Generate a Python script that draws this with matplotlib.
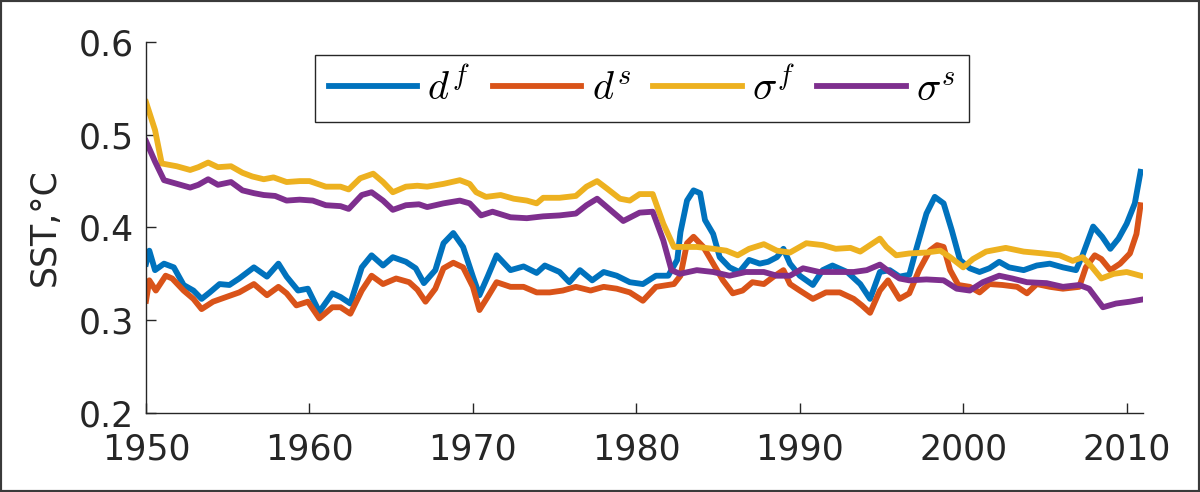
import matplotlib
matplotlib.use("Agg")
import matplotlib.pyplot as plt
from matplotlib.patches import Rectangle

plt.rcParams['font.family'] = ['DejaVu Sans']
plt.rcParams['mathtext.fontset'] = 'cm'

# d^f (blue)
df_years = [1950.0, 1950.2, 1950.55, 1951.1, 1951.7, 1952.3, 1952.9, 1953.4, 1953.9, 1954.5,
            1955.1, 1955.7, 1956.6, 1957.4, 1958.1, 1958.6, 1959.3, 1959.9, 1960.6, 1961.4,
            1961.9, 1962.5, 1963.2, 1963.8, 1964.5, 1965.1, 1965.9, 1966.5, 1967.0, 1967.7,
            1968.2, 1968.8, 1969.4, 1970.0, 1970.4, 1970.9, 1971.45, 1972.3, 1973.1, 1973.9,
            1974.4, 1975.3, 1975.9, 1976.55, 1977.3, 1978.0, 1978.8, 1979.6, 1980.4, 1981.2,
            1981.95, 1982.5, 1982.7, 1983.1, 1983.5, 1983.9, 1984.2, 1984.7, 1985.1, 1985.7,
            1986.3, 1986.9, 1987.55, 1988.06, 1988.6, 1989.0, 1989.4, 1990.0, 1990.8, 1991.4,
            1992.0, 1992.9, 1993.7, 1994.3, 1994.9, 1995.5, 1996.1, 1996.7, 1997.1, 1997.75,
            1998.26, 1998.8, 1999.3, 1999.8, 2000.4, 2001.0, 2001.6, 2002.2, 2002.8, 2003.7,
            2004.5, 2005.3, 2006.1, 2006.9, 2007.3, 2007.95, 2008.5, 2009.0, 2009.5, 2010.0,
            2010.5, 2010.85]
df_vals = [0.361, 0.375, 0.354, 0.361, 0.357, 0.338, 0.332, 0.323, 0.330, 0.339,
           0.338, 0.345, 0.357, 0.347, 0.361, 0.347, 0.332, 0.334, 0.309, 0.329,
           0.325, 0.318, 0.357, 0.370, 0.359, 0.368, 0.363, 0.356, 0.340, 0.354,
           0.383, 0.394, 0.379, 0.347, 0.327, 0.347, 0.370, 0.354, 0.358, 0.351,
           0.359, 0.352, 0.341, 0.354, 0.343, 0.352, 0.348, 0.341, 0.339, 0.348,
           0.348, 0.365, 0.395, 0.429, 0.440, 0.437, 0.408, 0.393, 0.368, 0.357,
           0.352, 0.365, 0.361, 0.363, 0.368, 0.377, 0.361, 0.348, 0.338, 0.354,
           0.359, 0.352, 0.339, 0.323, 0.352, 0.354, 0.347, 0.349, 0.375, 0.415,
           0.433, 0.426, 0.397, 0.365, 0.356, 0.352, 0.356, 0.363, 0.357, 0.354,
           0.359, 0.361, 0.357, 0.354, 0.370, 0.401, 0.390, 0.377, 0.388, 0.404,
           0.426, 0.460]

# d^s (orange)
ds_years = [1950.0, 1950.2, 1950.6, 1951.2, 1951.6, 1952.3, 1952.9, 1953.4, 1954.1, 1954.9,
            1955.7, 1956.6, 1957.4, 1958.1, 1958.6, 1959.2, 1959.9, 1960.6, 1961.4, 1961.9,
            1962.5, 1963.2, 1963.8, 1964.5, 1965.3, 1966.1, 1966.6, 1967.1, 1967.7, 1968.2,
            1968.8, 1969.4, 1970.0, 1970.4, 1970.9, 1971.45, 1972.3, 1973.1, 1973.9, 1974.7,
            1975.5, 1976.3, 1977.2, 1978.0, 1978.8, 1979.6, 1980.4, 1981.2, 1982.3, 1982.7,
            1983.1, 1983.5, 1984.1, 1984.7, 1985.3, 1985.9, 1986.5, 1987.1, 1987.8, 1988.4,
            1989.0, 1989.4, 1990.0, 1990.8, 1991.6, 1992.45, 1993.3, 1993.8, 1994.3, 1994.9,
            1995.4, 1996.1, 1996.7, 1997.3, 1997.95, 1998.4, 1998.8, 1999.2, 1999.7, 2000.4,
            2001.0, 2001.6, 2002.4, 2003.3, 2003.9, 2004.5, 2005.3, 2006.1, 2007.1, 2007.5,
            2008.05, 2008.45, 2009.0, 2009.6, 2010.2, 2010.6, 2010.85]
ds_vals = [0.321, 0.343, 0.332, 0.348, 0.345, 0.332, 0.323, 0.312, 0.320, 0.325,
           0.330, 0.339, 0.327, 0.336, 0.329, 0.316, 0.320, 0.302, 0.314, 0.314,
           0.307, 0.332, 0.348, 0.339, 0.345, 0.341, 0.333, 0.320, 0.334, 0.356,
           0.362, 0.357, 0.336, 0.311, 0.325, 0.341, 0.336, 0.336, 0.330, 0.330,
           0.332, 0.336, 0.332, 0.336, 0.334, 0.330, 0.321, 0.336, 0.339, 0.348,
           0.383, 0.390, 0.379, 0.361, 0.343, 0.329, 0.332, 0.341, 0.339, 0.347,
           0.354, 0.339, 0.332, 0.323, 0.330, 0.330, 0.323, 0.316, 0.308, 0.332,
           0.343, 0.323, 0.329, 0.354, 0.375, 0.381, 0.379, 0.354, 0.338, 0.336,
           0.330, 0.339, 0.338, 0.336, 0.329, 0.339, 0.336, 0.334, 0.336, 0.357,
           0.370, 0.366, 0.354, 0.361, 0.372, 0.393, 0.424]

# sigma^f (yellow)
sf_years = [1950.0, 1950.55, 1950.96, 1951.88, 1952.7, 1953.2, 1953.8, 1954.4, 1955.2, 1955.9,
            1956.5, 1957.2, 1957.8, 1958.6, 1959.4, 1960.0, 1961.0, 1961.9, 1962.4, 1963.1,
            1963.9, 1964.5, 1965.1, 1965.9, 1966.6, 1967.2, 1968.2, 1969.2, 1969.8, 1970.2,
            1970.8, 1971.7, 1972.5, 1973.3, 1973.9, 1974.3, 1975.3, 1976.3, 1976.95, 1977.6,
            1978.2, 1979.0, 1979.6, 1980.2, 1981.0, 1981.65, 1982.3, 1983.7, 1984.7, 1985.5,
            1986.2, 1986.9, 1987.8, 1988.6, 1989.4, 1990.4, 1991.4, 1992.2, 1993.1, 1993.7,
            1994.3, 1994.9, 1995.3, 1995.9, 1996.7, 1997.75, 1998.6, 1999.2, 2000.0, 2000.6,
            2001.4, 2002.6, 2003.7, 2004.9, 2005.9, 2006.7, 2007.3, 2007.8, 2008.45, 2009.2,
            2010.0, 2010.85]
sf_vals = [0.535, 0.505, 0.469, 0.466, 0.462, 0.465, 0.470, 0.465, 0.466, 0.459,
           0.455, 0.452, 0.454, 0.449, 0.450, 0.450, 0.444, 0.444, 0.441, 0.453,
           0.458, 0.449, 0.438, 0.444, 0.445, 0.444, 0.447, 0.451, 0.447, 0.438,
           0.433, 0.435, 0.431, 0.429, 0.426, 0.432, 0.432, 0.434, 0.444, 0.450,
           0.442, 0.431, 0.429, 0.436, 0.436, 0.404, 0.379, 0.379, 0.377, 0.375,
           0.370, 0.377, 0.382, 0.375, 0.373, 0.383, 0.381, 0.377, 0.378, 0.374,
           0.381, 0.388, 0.379, 0.370, 0.372, 0.373, 0.375, 0.368, 0.357, 0.366,
           0.374, 0.378, 0.374, 0.372, 0.370, 0.364, 0.368, 0.359, 0.345, 0.350,
           0.352, 0.348]

# sigma^s (purple)
ss_years = [1950.0, 1950.55, 1951.1, 1951.9, 1952.7, 1953.2, 1953.8, 1954.4, 1955.2, 1955.9,
            1956.6, 1957.2, 1957.9, 1958.6, 1959.4, 1960.2, 1961.0, 1961.9, 1962.4, 1963.2,
            1963.8, 1964.5, 1965.1, 1965.9, 1966.7, 1967.2, 1968.2, 1969.2, 1969.8, 1970.5,
            1971.2, 1972.3, 1973.3, 1974.3, 1975.3, 1976.3, 1976.95, 1977.6, 1978.4, 1979.2,
            1980.2, 1981.0, 1981.65, 1982.15, 1982.66, 1983.7, 1984.7, 1985.7, 1986.7, 1987.8,
            1988.6, 1989.4, 1990.2, 1991.2, 1992.2, 1993.3, 1994.1, 1994.9, 1995.5, 1996.1,
            1996.7, 1997.75, 1998.8, 1999.6, 2000.4, 2001.2, 2002.2, 2003.0, 2003.9, 2005.1,
            2006.1, 2007.1, 2007.7, 2008.55, 2009.35, 2010.2, 2010.85]
ss_vals = [0.493, 0.471, 0.451, 0.447, 0.443, 0.446, 0.452, 0.446, 0.449, 0.440,
           0.437, 0.435, 0.434, 0.429, 0.430, 0.429, 0.424, 0.423, 0.420, 0.435,
           0.438, 0.429, 0.419, 0.424, 0.425, 0.422, 0.426, 0.429, 0.426, 0.413,
           0.417, 0.411, 0.410, 0.412, 0.413, 0.415, 0.424, 0.431, 0.419, 0.407,
           0.416, 0.417, 0.386, 0.354, 0.350, 0.354, 0.352, 0.348, 0.352, 0.352,
           0.348, 0.348, 0.356, 0.352, 0.352, 0.352, 0.354, 0.360, 0.352, 0.345,
           0.343, 0.344, 0.343, 0.334, 0.332, 0.341, 0.348, 0.345, 0.341, 0.340,
           0.336, 0.338, 0.334, 0.314, 0.318, 0.320, 0.322]

labels = [r'$d^f$', r'$d^s$', r'$\sigma^f$', r'$\sigma^s$']
colors = ['#0072BD', '#D95319', '#EDB120', '#7E2F8E']
xticks = [1950, 1960, 1970, 1980, 1990, 2000, 2010]
yticks = [0.2, 0.3, 0.4, 0.5, 0.6]

fig = plt.figure(figsize=(12, 4.92), dpi=100)
ax = fig.add_axes([0.1217, 0.1606, 0.8308, 0.7541])

series = [(df_years, df_vals), (ds_years, ds_vals), (sf_years, sf_vals), (ss_years, ss_vals)]
for (xs, ys), lab, col in zip(series, labels, colors):
    ax.plot(xs, ys, color=col, lw=4.2, label=lab)

ax.set_xlim(1950, 2011)
ax.set_ylim(0.2, 0.6)
ax.set_xticks(xticks)
ax.set_yticks(yticks)
ax.set_yticklabels(['%.1f' % v for v in yticks])

axcol = '#262626'
for side in ['top', 'right']:
    ax.spines[side].set_visible(False)
for side in ['left', 'bottom']:
    ax.spines[side].set_color(axcol)
    ax.spines[side].set_linewidth(1.0)
ax.tick_params(direction='in', length=7, width=1.0, colors=axcol, labelsize=25)
ax.tick_params(axis='y', pad=9)
ax.tick_params(axis='x', pad=14)
ax.set_ylabel('SST,°C', fontsize=25, color=axcol, labelpad=12)

leg = ax.legend(loc='upper center', bbox_to_anchor=(0.4975, 0.965), ncol=4,
                fontsize=29, frameon=True, fancybox=False, framealpha=1,
                edgecolor=axcol, borderaxespad=0, handlelength=2.2,
                handletextpad=0.25, columnspacing=0.55, borderpad=0.33)
leg.get_frame().set_linewidth(1.0)

fig.add_artist(Rectangle((0, 0), 1, 1, transform=fig.transFigure, fill=False,
                         lw=3, ec='#3a3a3a'))

fig.savefig('out.png', dpi=100)
